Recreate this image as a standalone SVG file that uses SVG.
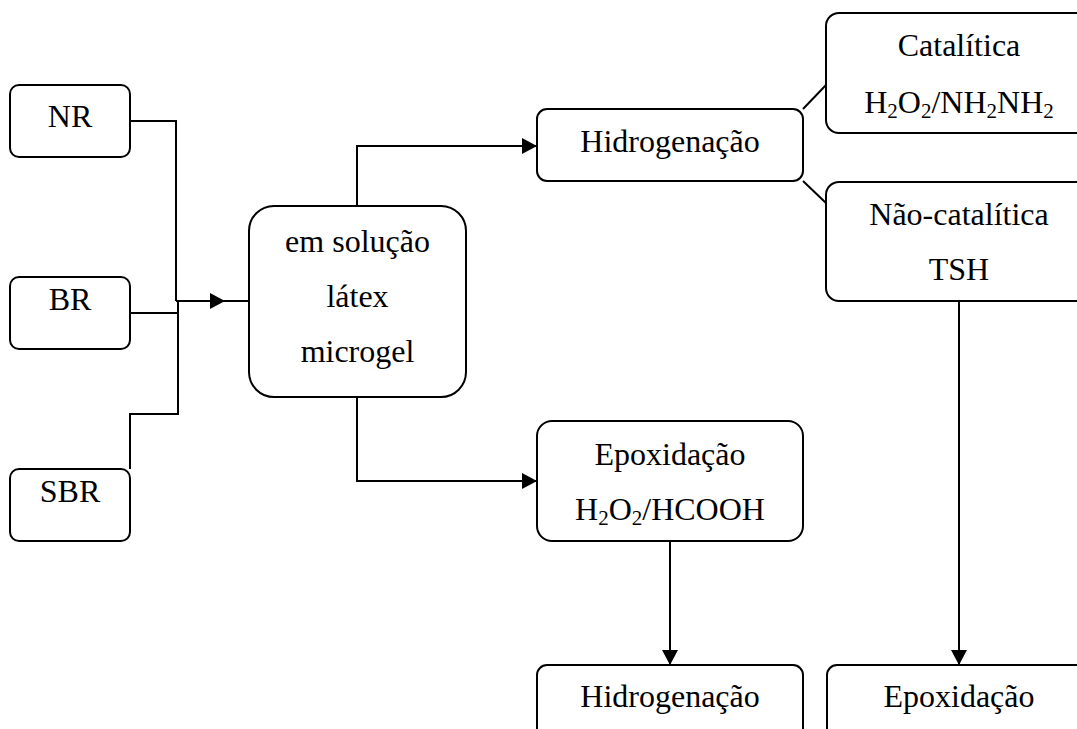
<svg xmlns="http://www.w3.org/2000/svg" width="1077" height="729" viewBox="0 0 1077 729">
<style>
.box{fill:#fff;stroke:#000;stroke-width:2}
.t{font-family:"Liberation Serif","Times New Roman",serif;font-size:32px;fill:#000;text-anchor:middle}
.sub{font-size:21px}
.c{fill:none;stroke:#000;stroke-width:2}
</style>
<defs>
<marker id="arr" markerWidth="16" markerHeight="16" refX="15" refY="8" orient="auto" markerUnits="userSpaceOnUse">
<path d="M0,0 L15,8 L0,16 z" fill="#000"/>
</marker>
</defs>
<rect width="1077" height="729" fill="#fff"/>
<g id="connectors">
<path class="c" d="M130,121 H176 V301"/>
<path class="c" d="M176,301 L225,301 L249,301" marker-mid="url(#arr)"/>
<path class="c" d="M130,313 H178"/>
<path class="c" d="M178,301 V414 H130 V469"/>
<path class="c" d="M357,206 V146 H537" marker-end="url(#arr)"/>
<path class="c" d="M357,397 V481 H537" marker-end="url(#arr)"/>
<path class="c" d="M803,109 L826,85"/>
<path class="c" d="M803,181 L826,203"/>
<path class="c" d="M670,541 V665" marker-end="url(#arr)"/>
<path class="c" d="M959,301 V665" marker-end="url(#arr)"/>
</g>
<g id="nr"><rect class="box" x="10" y="85" width="120" height="72" rx="9"/><text class="t" x="70" y="127">NR</text></g>
<g id="br"><rect class="box" x="10" y="277" width="120" height="72" rx="9"/><text class="t" x="70" y="310">BR</text></g>
<g id="sbr"><rect class="box" x="10" y="469" width="120" height="72" rx="9"/><text class="t" x="70" y="502">SBR</text></g>
<g id="center"><rect class="box" x="249" y="206" width="217" height="191" rx="25"/>
<text class="t" x="357.5" y="252">em solução</text>
<text class="t" x="357.5" y="307">látex</text>
<text class="t" x="357.5" y="362">microgel</text></g>
<g id="hidrog"><rect class="box" x="537" y="109" width="266" height="72" rx="10"/><text class="t" x="670" y="152">Hidrogenação</text></g>
<g id="catalitica"><rect class="box" x="826" y="13" width="266" height="120" rx="13"/>
<text class="t" x="959" y="56">Catalítica</text>
<text class="t" x="959" y="113">H<tspan class="sub" dy="5">2</tspan><tspan dy="-5">O</tspan><tspan class="sub" dy="5">2</tspan><tspan dy="-5">/NH</tspan><tspan class="sub" dy="5">2</tspan><tspan dy="-5">NH</tspan><tspan class="sub" dy="5">2</tspan></text></g>
<g id="naocat"><rect class="box" x="826" y="182" width="266" height="119" rx="13"/>
<text class="t" x="959" y="225">Não-catalítica</text>
<text class="t" x="959" y="280">TSH</text></g>
<g id="epox"><rect class="box" x="537" y="421" width="266" height="120" rx="15"/>
<text class="t" x="670" y="465">Epoxidação</text>
<text class="t" x="670" y="520">H<tspan class="sub" dy="5">2</tspan><tspan dy="-5">O</tspan><tspan class="sub" dy="5">2</tspan><tspan dy="-5">/HCOOH</tspan></text></g>
<g id="hidrog2"><rect class="box" x="537" y="665" width="266" height="100" rx="10"/><text class="t" x="670" y="707">Hidrogenação</text></g>
<g id="epox2"><rect class="box" x="827" y="665" width="266" height="100" rx="10"/><text class="t" x="959" y="707">Epoxidação</text></g>
</svg>
